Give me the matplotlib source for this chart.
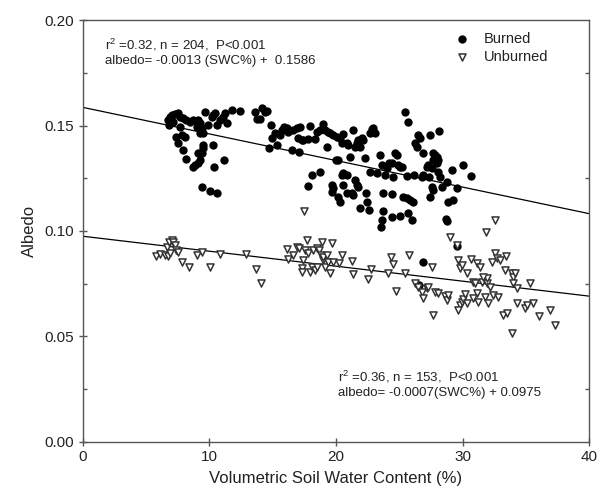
import numpy as np
import matplotlib
matplotlib.use("Agg")
import matplotlib.pyplot as plt
from matplotlib.ticker import MultipleLocator

plt.rcParams['font.family'] = ['Liberation Sans', 'DejaVu Sans']
plt.rcParams['mathtext.fontset'] = 'custom'
plt.rcParams['mathtext.rm'] = 'Liberation Sans'

# Burned plots: soil water content (%) and albedo
burned_swc = [
    6.75, 6.88, 7.01, 7.27, 7.54, 7.67, 7.93, 8.19, 8.46, 8.72, 8.99, 9.12, 9.25,
    6.82, 7.14, 7.67, 8.99, 9.38, 9.64, 9.91, 10.17, 10.30, 10.43, 10.57, 10.83,
    11.09, 11.23, 11.36, 11.75, 12.41, 13.60, 13.73, 13.99, 14.12, 14.39, 14.52,
    7.40, 7.54, 7.80, 8.06, 7.93, 8.19, 8.72, 8.85, 9.12, 9.25, 9.38, 9.46, 9.51,
    9.12, 9.25, 9.46, 10.25, 10.38, 11.15, 9.38, 10.04, 10.62,
    14.83, 14.91, 14.73, 15.18, 15.31, 15.57, 15.71, 15.89, 16.10, 16.23, 16.50,
    16.63, 16.89, 17.02, 17.15, 17.29, 17.10, 17.42, 17.81, 17.94, 17.81, 18.08,
    18.34, 18.47, 18.74, 18.95, 18.74, 19.26, 19.13, 19.39, 19.53, 19.79, 20.05,
    20.32, 20.58, 20.84, 20.97, 20.45, 20.00, 20.18, 21.11, 21.37, 21.50, 21.63,
    21.77, 21.90, 22.03, 22.16, 22.29, 22.69, 22.82, 22.95, 23.08,
    20.58, 20.84, 20.45, 19.66, 19.79, 19.66, 20.18, 20.32, 20.58, 20.84, 21.24,
    21.50, 21.63, 21.77, 21.37, 21.90, 22.37, 22.42, 22.64, 22.69, 23.21, 23.48,
    23.61, 23.87, 24.01, 24.21, 24.40, 24.53, 24.66, 24.80, 24.93, 25.06, 25.19,
    25.45, 25.72, 25.59, 25.72, 25.06, 24.40, 23.74, 23.61, 23.56, 23.69, 24.40,
    25.32, 25.59, 25.85, 26.06, 25.98, 26.19, 26.25, 26.38, 26.51, 26.64, 26.90,
    26.90, 27.43, 27.17, 27.30, 27.43, 27.56, 27.56, 27.69, 27.83, 27.96, 28.09,
    28.17, 28.09, 28.22, 28.35, 28.70, 28.75, 28.75, 28.88, 29.14, 29.28, 29.54,
    30.01, 30.65, 26.90, 26.59, 29.54, 27.69, 27.38, 26.77, 27.96, 27.64,
]
burned_albedo = [
    .1526, .1542, .1550, .1555, .1558, .1542, .1534, .1526, .1518, .1526, .1518, .1526, .1510,
    .1502, .1518, .1494, .1494, .1487, .1566, .1502, .1542, .1550, .1558, .1502, .1526,
    .1542, .1558, .1510, .1573, .1570, .1566, .1529, .1529, .1581, .1566, .1570,
    .1447, .1415, .1455, .1447, .1384, .1340, .1305, .1313, .1321, .1336, .1368, .1392, .1408,
    .1368, .1463, .1463, .1408, .1305, .1336, .1207, .1191, .1182,
    .1502, .1439, .1392, .1463, .1408, .1455, .1479, .1494, .1487, .1471, .1384,
    .1479, .1487, .1439, .1494, .1431, .1376, .1431, .1434, .1498, .1215, .1265,
    .1436, .1471, .1479, .1506, .1281, .1400, .1479, .1471, .1463, .1455, .1447,
    .1439, .1460, .1415, .1408, .1415, .1336, .1336, .1349, .1479, .1400, .1415,
    .1431, .1400, .1439, .1431, .1344, .1463, .1482, .1487, .1463,
    .1273, .1265, .1265, .1218, .1202, .1186, .1163, .1139, .1218, .1178, .1178,
    .1242, .1218, .1210, .1171, .1107, .1178, .1139, .1100, .1281, .1273, .1360,
    .1313, .1265, .1297, .1321, .1321, .1258, .1368, .1360, .1313, .1305, .1305,
    .1566, .1518, .1261, .1084, .1071, .1068, .1096, .1052, .1021, .1178, .1174,
    .1163, .1155, .1147, .1139, .1052, .1265, .1415, .1400, .1455, .1439, .1265,
    .1368, .1455, .1305, .1313, .1163, .1210, .1297, .1368, .1360, .1352, .1336,
    .1474, .1281, .1258, .1210, .1055, .1047, .1234, .1139, .1289, .1147, .1202,
    .1313, .1261, .0855, .0744, .0930, .1194, .1258, .1258, .1321, .1336,
]

# Unburned plots
unburned_swc = [
    5.82, 6.09, 6.48, 6.75, 6.88, 6.67, 6.82, 7.01, 7.14, 7.27, 7.40, 7.54, 7.80,
    8.41, 8.99, 9.43, 10.04, 10.83, 12.86, 13.65, 14.04,
    16.15, 16.23, 16.63, 16.94, 17.10, 17.29, 17.29, 17.42, 17.55, 17.68, 17.81,
    17.94, 18.08, 18.21, 18.34, 18.47, 18.52, 18.68, 18.79, 18.87, 18.95, 19.00,
    19.13, 19.26, 19.39, 19.53, 19.66, 19.79, 20.26, 20.45, 21.24, 21.32, 22.56,
    22.77, 24.14, 24.35, 24.53, 24.74, 25.45, 25.80, 17.47,
    26.25, 26.51, 26.77, 26.90, 27.17, 27.30, 27.56, 27.69, 27.83, 28.09, 28.62,
    28.75, 28.88, 29.01, 29.54, 29.67, 29.80, 29.93, 29.80, 29.67, 29.93, 30.07,
    30.20, 30.33, 30.33, 30.65, 30.86, 30.99, 31.12, 31.17, 31.38, 31.52, 31.78,
    31.91, 31.96, 31.86, 32.04, 32.17, 32.44, 32.31, 32.57, 32.57, 32.70, 32.83,
    32.96, 33.36, 33.44, 33.23, 33.49, 33.89, 34.02, 34.15, 34.02, 34.28, 33.89,
    34.28, 34.94, 35.07, 35.34, 35.60, 36.07, 36.92, 37.31, 30.86, 31.25, 31.65,
]
unburned_albedo = [
    .0883, .0889, .0886, .0882, .0894, .0926, .0949, .0957, .0949, .0934, .0910, .0902, .0852,
    .0831, .0886, .0899, .0831, .0889, .0889, .0818, .0755,
    .0913, .0866, .0886, .0926, .0918, .0823, .0807, .0863, .0910, .0957, .0894,
    .0807, .0831, .0910, .0815, .0918, .0831, .0910, .0886, .0949, .0863, .0878,
    .0831, .0886, .0855, .0799, .0942, .0855, .0850, .0885, .0859, .0796, .0771,
    .0820, .0799, .0875, .0844, .0716, .0799, .0885, .1096,
    .0752, .0736, .0712, .0681, .0728, .0736, .0831, .0602, .0712, .0708, .0694,
    .0673, .0697, .0973, .0934, .0863, .0823, .0839, .0649, .0626, .0665, .0676,
    .0701, .0657, .0799, .0866, .0760, .0752, .0705, .0847, .0831, .0760, .0689,
    .0752, .0776, .0994, .0657, .0736, .0697, .0855, .0894, .1052, .0870, .0689,
    .0863, .0815, .0883, .0602, .0610, .0799, .0784, .0799, .0752, .0728, .0515,
    .0657, .0633, .0649, .0752, .0657, .0597, .0626, .0555, .0681, .0665, .0784,
]

# regression lines (intercept, slope) as drawn
burned_fit = (0.1586, -0.00126)
unburned_fit = (0.0975, -0.00071)

fig = plt.figure(figsize=(6.0, 5.01), dpi=100)
ax = fig.add_axes([0.138, 0.118, 0.844, 0.842])

ax.scatter(burned_swc, burned_albedo, s=36, marker='o', color='black',
           linewidths=0, label='Burned', zorder=3)
ax.scatter(unburned_swc, unburned_albedo, s=26, marker='v', facecolor='white',
           edgecolor='#333333', linewidths=1.1, label='Unburned', zorder=3)

xs = np.array([0, 40])
for b, m in (burned_fit, unburned_fit):
    ax.plot(xs, b + m * xs, color='black', lw=0.9, zorder=2)

ax.set_xlim(0, 40)
ax.set_ylim(0, 0.20)
ax.xaxis.set_major_locator(MultipleLocator(10))
ax.yaxis.set_major_locator(MultipleLocator(0.05))
ax.yaxis.set_minor_locator(MultipleLocator(0.025))
ax.yaxis.set_major_formatter(matplotlib.ticker.FormatStrFormatter('%.2f'))

for sp in ax.spines.values():
    sp.set_color('#555555')
    sp.set_linewidth(1.0)

ax.tick_params(which='major', direction='inout', length=6, width=1.0,
               color='#555555', labelsize=11, labelcolor='#222222', pad=3)
ax.tick_params(which='minor', direction='in', length=3, width=1.0,
               color='#555555', left=True, right=True)

ax.set_xlabel('Volumetric Soil Water Content (%)', fontsize=12,
              color='#222222', labelpad=5)
ax.set_ylabel('Albedo', fontsize=12, color='#222222', labelpad=6)

ax.text(0.043, 0.941, 'r$^2$ =0.32, n = 204,  P<0.001', transform=ax.transAxes,
        fontsize=9.5, va='center', color='#222222')
ax.text(0.043, 0.902, 'albedo= -0.0013 (SWC%) +  0.1586', transform=ax.transAxes,
        fontsize=9.5, va='center', color='#222222')
ax.text(0.504, 0.154, 'r$^2$ =0.36, n = 153,  P<0.001', transform=ax.transAxes,
        fontsize=9.5, va='center', color='#222222')
ax.text(0.504, 0.117, 'albedo= -0.0007(SWC%) + 0.0975', transform=ax.transAxes,
        fontsize=9.5, va='center', color='#222222')

leg = ax.legend(loc='upper left', bbox_to_anchor=(0.708, 0.985), frameon=False,
                fontsize=10.5, handletextpad=0.5, labelspacing=0.25,
                borderaxespad=0)
for t in leg.get_texts():
    t.set_color('#222222')

fig.savefig('out.png', dpi=100)
